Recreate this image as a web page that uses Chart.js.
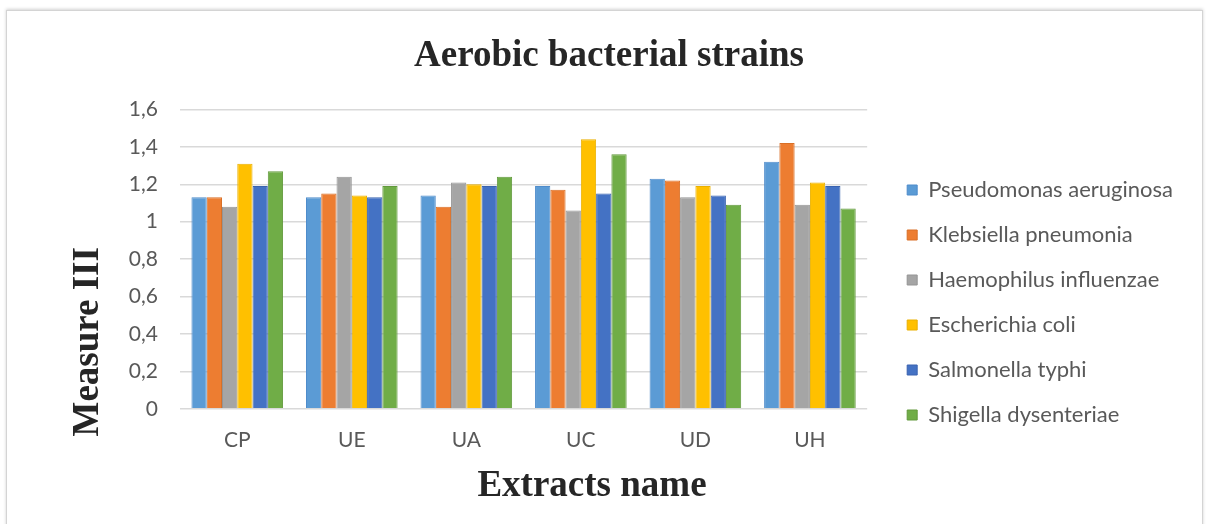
<!DOCTYPE html>
<html>
<head>
<meta charset="utf-8">
<script src="https://cdn.jsdelivr.net/npm/chart.js@4/dist/chart.umd.min.js"></script>
<style>
  html, body { margin: 0; padding: 0; background: #fff; }
  body { width: 1208px; height: 524px; position: relative; overflow: hidden; }
  #frame { position: absolute; left: 6px; top: 10px; width: 1195px; height: 530px;
           border: 1px solid #d4d4d4; box-shadow: 0 -1px 3px rgba(0,0,0,0.18); }
  #chart { position: absolute; left: 0; top: 0; }
</style>
</head>
<body>
<div id="frame"></div>
<canvas id="chart" width="1208" height="524"></canvas>
<script>
// data
const extracts = ['CP', 'UE', 'UA', 'UC', 'UD', 'UH'];
const strainNames = ['Pseudomonas aeruginosa', 'Klebsiella pneumonia', 'Haemophilus influenzae',
                     'Escherichia coli', 'Salmonella typhi', 'Shigella dysenteriae'];
const pseudomonas = [1.13, 1.13, 1.14, 1.19, 1.23, 1.32];
const klebsiella  = [1.13, 1.15, 1.08, 1.17, 1.22, 1.42];
const haemophilus = [1.08, 1.24, 1.21, 1.06, 1.13, 1.09];
const ecoli       = [1.31, 1.14, 1.20, 1.44, 1.19, 1.21];
const salmonella  = [1.19, 1.13, 1.19, 1.15, 1.14, 1.19];
const shigella    = [1.27, 1.19, 1.24, 1.36, 1.09, 1.07];
const yTickLabels = ['0', '0,2', '0,4', '0,6', '0,8', '1', '1,2', '1,4', '1,6'];

const colors  = ['#5B9BD5', '#ED7D31', '#A5A5A5', '#FFC000', '#4472C4', '#70AD47'];
const borders = ['#4f8ccb', '#d96f26', '#959595', '#eab000', '#3a63b0', '#62993c'];
const seriesValues = [pseudomonas, klebsiella, haemophilus, ecoli, salmonella, shigella];

const tickFont = { family: 'Lato, "Open Sans", sans-serif', size: 21 };
const legendFont = { family: 'Lato, "Open Sans", sans-serif', size: 22 };
const serif = 'Liberation Serif, "Times New Roman", serif';

// legend width so the chart area ends where the reference's does
const mctx = document.createElement('canvas').getContext('2d');
mctx.font = legendFont.size + 'px ' + legendFont.family;
const textW = Math.max(...strainNames.map(n => mctx.measureText(n).width));
const legendW = 23 + 10 + legendFont.size / 2 + textW + 10;
const padRight = Math.max(0, Math.round(1208 - 884 - legendW));
const padLeft = padRight + 10; // keeps the title centred like the original

// axis titles sit off-centre in the original, so draw them by hand
const axisTitles = {
  id: 'axisTitles',
  afterDraw(chart) {
    const { ctx, chartArea } = chart;
    ctx.save();
    ctx.font = 'bold 37px ' + serif;
    ctx.fillStyle = '#262626';
    ctx.textAlign = 'center';
    ctx.textBaseline = 'middle';
    ctx.fillText('Extracts name', chartArea.left + 412, chartArea.bottom + 78);
    ctx.translate(chartArea.left - 92, chartArea.bottom - 67);
    ctx.rotate(-Math.PI / 2);
    ctx.fillText('Measure III', 0, 0);
    ctx.restore();
  }
};

new Chart(document.getElementById('chart'), {
  type: 'bar',
  data: {
    labels: extracts,
    datasets: strainNames.map((name, i) => ({
      label: name,
      data: seriesValues[i],
      backgroundColor: colors[i],
      borderColor: borders[i],
      borderWidth: 1,
      borderSkipped: 'bottom',
      barPercentage: 1,
      categoryPercentage: 0.8
    }))
  },
  options: {
    responsive: false,
    animation: false,
    devicePixelRatio: 1,
    layout: { padding: { left: padLeft, right: padRight, top: 0, bottom: 52 } },
    plugins: {
      title: {
        display: true,
        text: 'Aerobic bacterial strains',
        color: '#262626',
        font: { family: serif, size: 37, weight: 'bold', lineHeight: 1.2 },
        padding: { top: 34, bottom: 31 }
      },
      legend: {
        position: 'right',
        align: 'start',
        maxWidth: 400,
        title: { display: true, text: '', font: { size: 10, lineHeight: 1.2 }, padding: { top: 144, bottom: 0 } },
        labels: {
          boxWidth: 10,
          boxHeight: 10,
          padding: 23,
          color: '#595959',
          font: legendFont
        }
      },
      tooltip: { enabled: false }
    },
    scales: {
      x: {
        grid: { display: false, drawTicks: false },
        border: { display: false },
        ticks: { color: '#595959', font: tickFont, padding: 19 }
      },
      y: {
        min: 0,
        max: 1.6,
        grid: { color: '#d9d9d9', lineWidth: 1.5, drawTicks: false },
        border: { display: false },
        ticks: {
          stepSize: 0.2,
          padding: 22,
          color: '#595959',
          font: tickFont,
          callback: (v, i) => yTickLabels[i]
        },
        afterFit: s => { s.width = 180 - padLeft; }
      },
      yRight: {
        type: 'linear',
        position: 'right',
        grid: { display: false, drawTicks: false },
        border: { display: false },
        ticks: { display: false },
        afterFit: s => { s.width = 17; }
      }
    }
  },
  plugins: [axisTitles]
});
</script>
</body>
</html>
